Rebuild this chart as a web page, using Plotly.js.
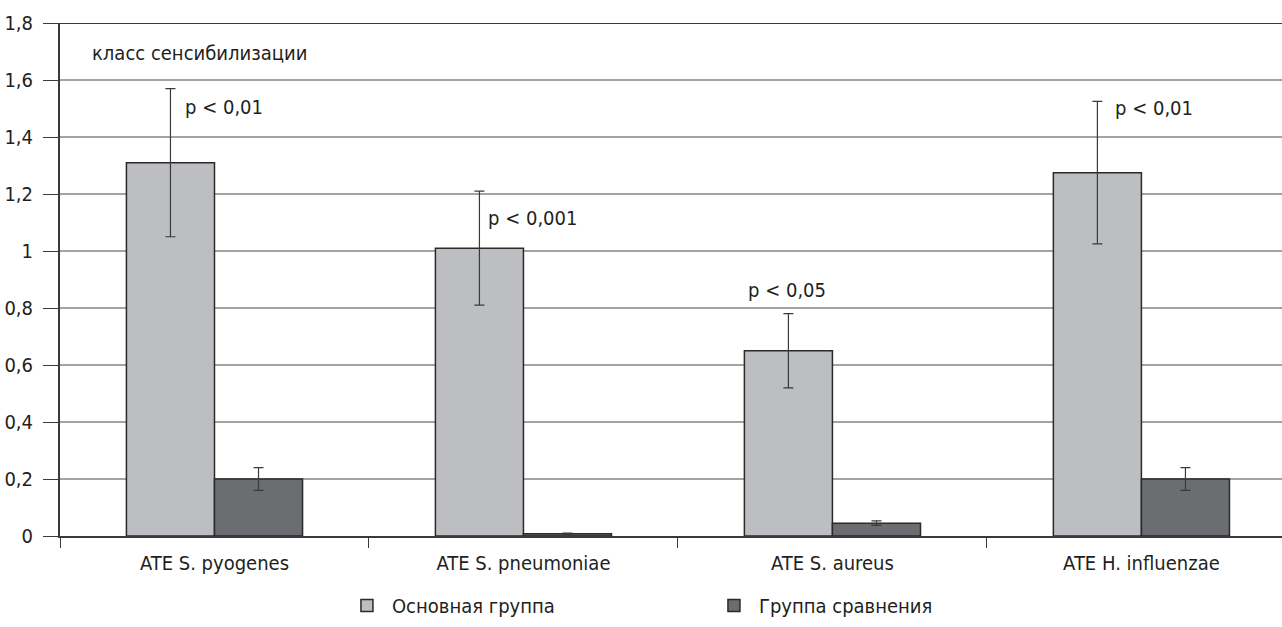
<!DOCTYPE html>
<html>
<head>
<meta charset="utf-8">
<script src="https://cdn.plot.ly/plotly-3.0.1.min.js"></script>
<style>html,body{margin:0;padding:0;background:#fff;}#chart{width:1282px;height:627px;}</style>
</head>
<body>
<div id="chart"></div>
<script>
const categories = ["ATE S. pyogenes", "ATE S. pneumoniae", "ATE S. aureus", "ATE H. influenzae"];
const seriesNames = ["Основная группа", "Группа сравнения"];
const mainValues = [1.31, 1.01, 0.65, 1.275];
const mainErrors = [0.26, 0.20, 0.13, 0.25];
const compValues = [0.20, 0.008, 0.045, 0.20];
const compErrors = [0.04, 0.002, 0.008, 0.04];
const pLabels = ["p < 0,01", "p < 0,001", "p < 0,05", "p < 0,01"];
const yTicks = [0, 0.2, 0.4, 0.6, 0.8, 1, 1.2, 1.4, 1.6, 1.8];
const yTickText = ["0", "0,2", "0,4", "0,6", "0,8", "1", "1,2", "1,4", "1,6", "1,8"];
const yLabel = "класс сенсибилизации";

const FONT = "'Liberation Sans Narrow', 'Arial Narrow', 'DejaVu Sans Condensed', sans-serif";
const txt = {family: FONT, size: 20, color: "#231f20"};

const traces = [
  {type: "bar", name: seriesNames[0], x: categories, y: mainValues,
   marker: {color: "#bdbec2", line: {color: "#2a2a2a", width: 1.5}},
   error_y: {type: "data", array: mainErrors, visible: true, color: "#3a3a3a", thickness: 1.2, width: 5}},
  {type: "bar", name: seriesNames[1], x: categories, y: compValues,
   marker: {color: "#6c6d71", line: {color: "#2a2a2a", width: 1.5}},
   error_y: {type: "data", array: compErrors, visible: true, color: "#3a3a3a", thickness: 1.2, width: 5}}
];

// p-value label placement relative to the error bar top of the main series
const pPlace = [
  {xanchor: "left", xshift: -31, yshift: -18},
  {xanchor: "left", xshift: -37, yshift: -27},
  {xanchor: "center", xshift: -45, yshift: 24},
  {xanchor: "left", xshift: -28, yshift: -7}
];
const annotations = categories.map((c, i) => ({
  x: c, y: mainValues[i] + mainErrors[i], xref: "x", yref: "y",
  text: pLabels[i], showarrow: false, font: txt,
  xanchor: pPlace[i].xanchor, yanchor: "middle",
  xshift: pPlace[i].xshift, yshift: pPlace[i].yshift
}));
annotations.push({
  x: 30 / 1222, y: 1.695, xref: "paper", yref: "y", text: yLabel, showarrow: false,
  font: txt, xanchor: "left", yanchor: "middle"
});

const layout = {
  width: 1282, height: 627,
  margin: {l: 60, r: 0, t: 23, b: 91, autoexpand: false},
  paper_bgcolor: "#ffffff", plot_bgcolor: "#ffffff",
  font: txt,
  barmode: "group", bargap: 0.43, bargroupgap: 0,
  showlegend: true,
  legend: {orientation: "h", xref: "container", yref: "container",
           x: 0.553, xanchor: "center", y: 0.003, yanchor: "bottom",
           font: txt, traceorder: "normal", itemwidth: 40, entrywidth: 312},
  xaxis: {
    type: "category", range: [-0.5, 3.455], fixedrange: true,
    showline: true, linecolor: "#3a3a3a", linewidth: 2,
    ticks: "outside", tickson: "boundaries", ticklen: 10, tickcolor: "#3a3a3a", tickwidth: 1,
    showgrid: false, tickfont: txt, ticklabelstandoff: 8
  },
  yaxis: {
    range: [0, 1.8], tickvals: yTicks, ticktext: yTickText,
    showline: true, linecolor: "#3a3a3a", linewidth: 2,
    ticks: "outside", ticklen: 15, tickcolor: "#3a3a3a", tickwidth: 1,
    showgrid: true, gridcolor: "#a3a3a3", gridwidth: 1.2,
    zeroline: false, tickfont: txt, ticklabelstandoff: 6
  },
  shapes: [{type: "line", xref: "paper", yref: "y", x0: 0, x1: 1, y0: 1.8, y1: 1.8,
            line: {color: "#3a3a3a", width: 2}}],
  annotations: annotations
};

Plotly.newPlot("chart", traces, layout, {displayModeBar: false, staticPlot: true});
</script>
</body>
</html>
